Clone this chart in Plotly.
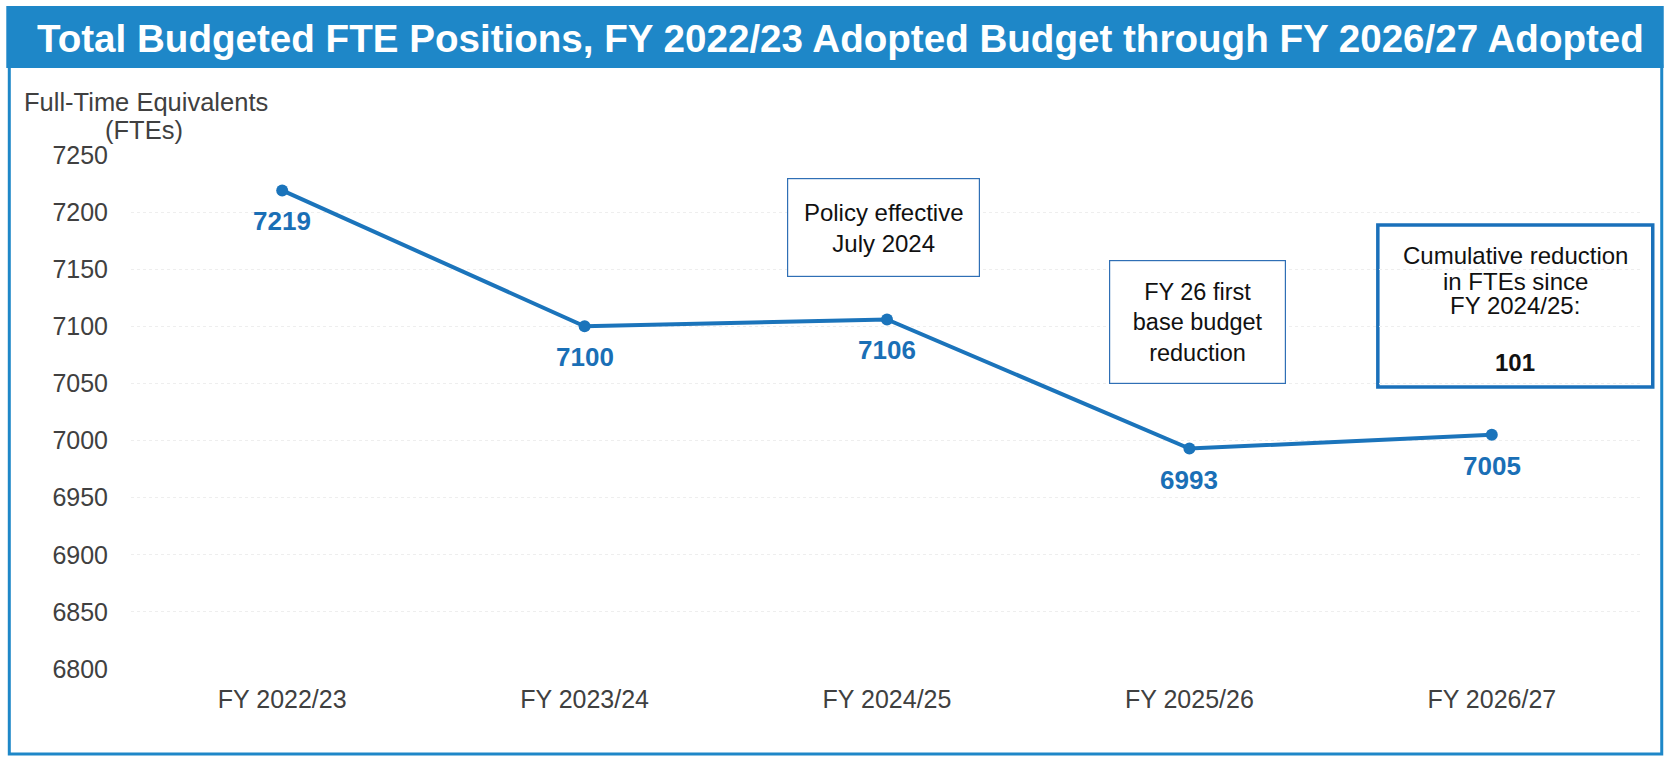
import plotly.graph_objects as go

categories = ["FY 2022/23", "FY 2023/24", "FY 2024/25", "FY 2025/26", "FY 2026/27"]
fte_values = [7219, 7100, 7106, 6993, 7005]
y_ticks = [6800, 6850, 6900, 6950, 7000, 7050, 7100, 7150, 7200, 7250]

title_text = "Total Budgeted FTE Positions, FY 2022/23 Adopted Budget through FY 2026/27 Adopted"
y_title_1 = "Full-Time Equivalents"
y_title_2 = "(FTEs)"
note1 = "Policy effective<br>July 2024"
note2 = "FY 26 first<br>base budget<br>reduction"
note3_lines = ["Cumulative reduction", "in FTEs since", "FY 2024/25:", "<b>101</b>"]
note3_line_y = [255, 281, 305, 362.5]

W, H = 1667, 758
L, R, T, B = 130.75, 23.75, 155, 89
pw = W - L - R
ph = H - T - B

def px(x):
    return (x - L) / pw

def py(y):
    return (H - B - y) / ph

FONT = "Arial, Liberation Sans, sans-serif"
LINE_BLUE = "#1b74bb"
BAR_BLUE = "#1e87c8"

fig = go.Figure()
fig.add_trace(go.Scatter(
    x=categories, y=fte_values, mode="lines+markers",
    line=dict(color=LINE_BLUE, width=4),
    marker=dict(color=LINE_BLUE, size=12),
    hoverinfo="skip", showlegend=False,
))

annotations = []
for c, v in zip(categories, fte_values):
    annotations.append(dict(
        x=c, y=v, xref="x", yref="y", text=f"<b>{v}</b>", showarrow=False,
        yshift=-31, font=dict(family=FONT, size=26, color="#1a6fb6"),
    ))

annotations.append(dict(
    x=px(840), y=py(39), xref="paper", yref="paper", text=f"<b>{title_text}</b>",
    showarrow=False, xanchor="center", yanchor="middle",
    font=dict(family=FONT, size=38.6, color="white"),
))
annotations.append(dict(
    x=px(146), y=py(102), xref="paper", yref="paper", text=y_title_1,
    showarrow=False, xanchor="center", yanchor="middle",
    font=dict(family=FONT, size=25.5, color="#404040"),
))
annotations.append(dict(
    x=px(144), y=py(130), xref="paper", yref="paper", text=y_title_2,
    showarrow=False, xanchor="center", yanchor="middle",
    font=dict(family=FONT, size=25.5, color="#404040"),
))
annotations.append(dict(
    x=px(883.5), y=py(227.5), xref="paper", yref="paper", text=note1,
    showarrow=False, xanchor="center", yanchor="middle", align="center",
    width=191, height=97, borderpad=0, bordercolor="#2f6fb5", borderwidth=1.2,
    bgcolor="white", font=dict(family=FONT, size=24, color="#111111"),
))
annotations.append(dict(
    x=px(1197.5), y=py(322), xref="paper", yref="paper", text=note2,
    showarrow=False, xanchor="center", yanchor="middle", align="center",
    width=175, height=122, borderpad=0, bordercolor="#2f6fb5", borderwidth=1.2,
    bgcolor="white", font=dict(family=FONT, size=23.5, color="#111111"),
))
for txt, yy in zip(note3_lines, note3_line_y):
    annotations.append(dict(
        x=px(1515.5), y=py(yy), xref="paper", yref="paper", text=txt,
        showarrow=False, xanchor="center", yanchor="middle",
        font=dict(family=FONT, size=24, color="#111111"),
    ))

shapes = [
    dict(type="rect", xref="paper", yref="paper",
         x0=px(9), x1=px(1662), y0=py(754), y1=py(66),
         line=dict(color=BAR_BLUE, width=3), fillcolor="rgba(0,0,0,0)", layer="below"),
    dict(type="rect", xref="paper", yref="paper",
         x0=px(6), x1=px(1664), y0=py(68), y1=py(6),
         line=dict(width=0), fillcolor=BAR_BLUE, layer="below"),
    dict(type="rect", xref="paper", yref="paper",
         x0=px(1378), x1=px(1653), y0=py(387), y1=py(225),
         line=dict(color="#1a70ba", width=3.5), fillcolor="white", layer="below"),
]

fig.update_layout(
    width=W, height=H,
    margin=dict(l=L, r=R, t=T, b=B, autoexpand=False),
    paper_bgcolor="white", plot_bgcolor="white",
    annotations=annotations, shapes=shapes,
    font=dict(family=FONT),
)
fig.update_xaxes(
    type="category", range=[-0.5, 4.5], showgrid=False, showline=False, zeroline=False,
    ticks="outside", ticklen=8, tickcolor="rgba(0,0,0,0)",
    tickfont=dict(family=FONT, size=25, color="#404040"),
)
fig.update_yaxes(
    range=[6800, 7250], tickvals=y_ticks, showgrid=True, gridcolor="#eeeeee",
    griddash="dot", gridwidth=1, zeroline=False, showline=False,
    ticks="outside", ticklen=17, tickcolor="rgba(0,0,0,0)",
    tickfont=dict(family=FONT, size=25, color="#404040"),
)

fig.write_html("out.html", config={"displayModeBar": False},
               post_script="document.body.style.margin='0';")
